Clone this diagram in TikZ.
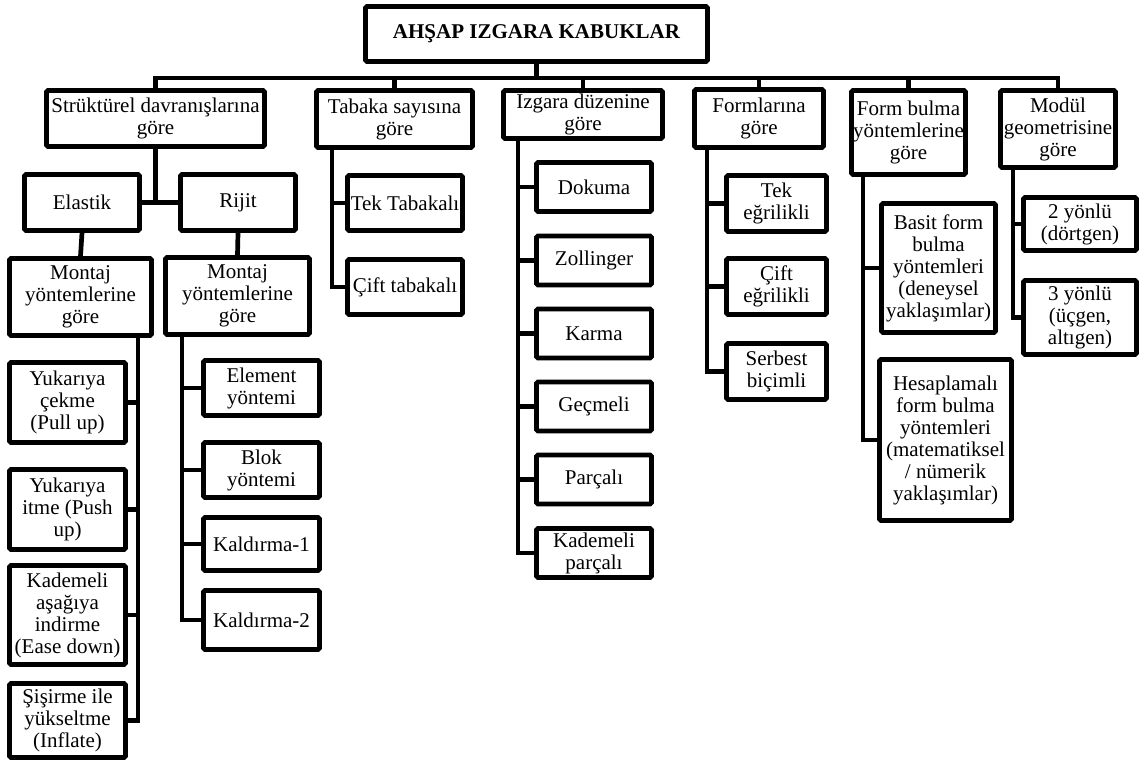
\documentclass[tikz,border=0pt]{standalone}
\usepackage{fontspec}
\setmainfont{Liberation Serif}

\begin{document}
\begin{tikzpicture}[x=1pt,y=-1pt,line width=4.7pt,
                    box/.style={draw,rounded corners=1.5pt,align=center,inner sep=1pt,
                                font=\fontsize{21}{22}\selectfont}]
  \useasboundingbox (0,0) rectangle (1140,766);

  \node[box,minimum width=342,minimum height=55,font=\fontsize{21}{22}\selectfont\bfseries]
       (root) at (536.5,34) {AHŞAP IZGARA KABUKLAR};

  % first level
  \node[box,minimum width=218,minimum height=56] (s1) at (155.5,118.5) {Strüktürel davranışlarına\\göre};
  \node[box,minimum width=156,minimum height=57] (s2) at (394.5,119) {Tabaka sayısına\\göre};
  \node[box,minimum width=159,minimum height=48] (s3) at (583,114.5) {Izgara düzenine\\göre};
  \node[box,minimum width=129,minimum height=58] (s4) at (759,118.5) {Formlarına\\göre};
  \node[box,minimum width=114,minimum height=84] (s5) at (908.5,132.5) {Form bulma\\yöntemlerine\\göre};
  \node[box,minimum width=115,minimum height=77] (s6) at (1058,129) {Modül\\geometrisine\\göre};

  \coordinate (bus) at (536.5,78);
  \draw (root.south) -- (bus);
  \draw (s1.north) |- (bus) -| (s6.north);
  \foreach \n in {s2,s3,s4,s5}
    \draw (\n.north) -- (\n.north |- bus);

  % structural behaviour
  \node[box,minimum width=115,minimum height=56] (ela) at (82,202.5) {Elastik};
  \node[box,minimum width=115,minimum height=56] (rij) at (238,202.5) {Rijit};
  \node[box,minimum width=142,minimum height=77] (mon1) at (80.5,297) {Montaj\\yöntemlerine\\göre};
  \node[box,minimum width=144,minimum height=77] (mon2) at (237.5,296) {Montaj\\yöntemlerine\\göre};

  \draw (s1.south) -- (s1.south |- ela.east);
  \draw (ela.east) -- (rij.west);
  \draw (ela.south) -- (mon1.north);
  \draw (rij.south) -- (mon2.north);

  \node[box,minimum width=116,minimum height=80] (yuk1) at (67.5,402.5) {Yukarıya\\çekme\\(Pull up)};
  \node[box,minimum width=116,minimum height=80] (yuk2) at (67.5,509.5) {Yukarıya\\itme (Push\\up)};
  \node[box,minimum width=116,minimum height=99] (kad) at (67.5,615) {Kademeli\\aşağıya\\indirme\\(Ease down)};
  \node[box,minimum width=116,minimum height=74] (sis) at (67.5,720.5) {Şişirme ile\\yükseltme\\(Inflate)};
  \foreach \c in {yuk1,yuk2,kad,sis}
    \draw ([xshift=57.5pt]mon1.south) |- (\c.east);

  \node[box,minimum width=116,minimum height=55] (elem) at (261.5,388) {Element\\yöntemi};
  \node[box,minimum width=116,minimum height=55] (blok) at (261.5,470) {Blok\\yöntemi};
  \node[box,minimum width=116,minimum height=53] (kal1) at (261.5,544) {Kaldırma-1};
  \node[box,minimum width=116,minimum height=59] (kal2) at (261.5,620) {Kaldırma-2};
  \foreach \c in {elem,blok,kal1,kal2}
    \draw ([xshift=-55.5pt]mon2.south) |- (\c.west);

  % layers
  \node[box,minimum width=115,minimum height=55] (tek) at (405,203) {Tek Tabakalı};
  \node[box,minimum width=115,minimum height=55] (cift) at (405,287) {Çift tabakalı};
  \foreach \c in {tek,cift}
    \draw ([xshift=-62.5pt]s2.south) |- (\c.west);

  % grid pattern
  \node[box,minimum width=115,minimum height=49] (dok) at (594,187) {Dokuma};
  \node[box,minimum width=115,minimum height=49] (zol) at (594,260.5) {Zollinger};
  \node[box,minimum width=115,minimum height=49] (kar) at (594,333.5) {Karma};
  \node[box,minimum width=115,minimum height=49] (gec) at (594,406.5) {Geçmeli};
  \node[box,minimum width=115,minimum height=49] (par) at (594,479.5) {Parçalı};
  \node[box,minimum width=115,minimum height=49] (kpar) at (594,553) {Kademeli\\parçalı};
  \foreach \c in {dok,zol,kar,gec,par,kpar}
    \draw ([xshift=-65pt]s3.south) |- (\c.west);

  % forms
  \node[box,minimum width=100,minimum height=56] (tekeg) at (776.5,203.5) {Tek\\eğrilikli};
  \node[box,minimum width=100,minimum height=56] (cifteg) at (776.5,286.5) {Çift\\eğrilikli};
  \node[box,minimum width=100,minimum height=56] (serb) at (776.5,371.5) {Serbest\\biçimli};
  \foreach \c in {tekeg,cifteg,serb}
    \draw ([xshift=-52pt]s4.south) |- (\c.west);

  % form finding
  \node[box,minimum width=114,minimum height=129] (basit) at (938.5,268) {Basit form\\bulma\\yöntemleri\\(deneysel\\yaklaşımlar)};
  \node[box,minimum width=132,minimum height=161] (hesap) at (945.5,440) {Hesaplamalı\\form bulma\\yöntemleri\\(matematiksel\\/ nümerik\\yaklaşımlar)};
  \foreach \c in {basit,hesap}
    \draw ([xshift=-45.5pt]s5.south) |- (\c.west);

  % module geometry
  \node[box,minimum width=113,minimum height=53] (iki) at (1080,224) {2 yönlü\\(dörtgen)};
  \node[box,minimum width=113,minimum height=74] (uc) at (1080,317.5) {3 yönlü\\(üçgen,\\altıgen)};
  \foreach \c in {iki,uc}
    \draw ([xshift=-45pt]s6.south) |- (\c.west);
\end{tikzpicture}
\end{document}
